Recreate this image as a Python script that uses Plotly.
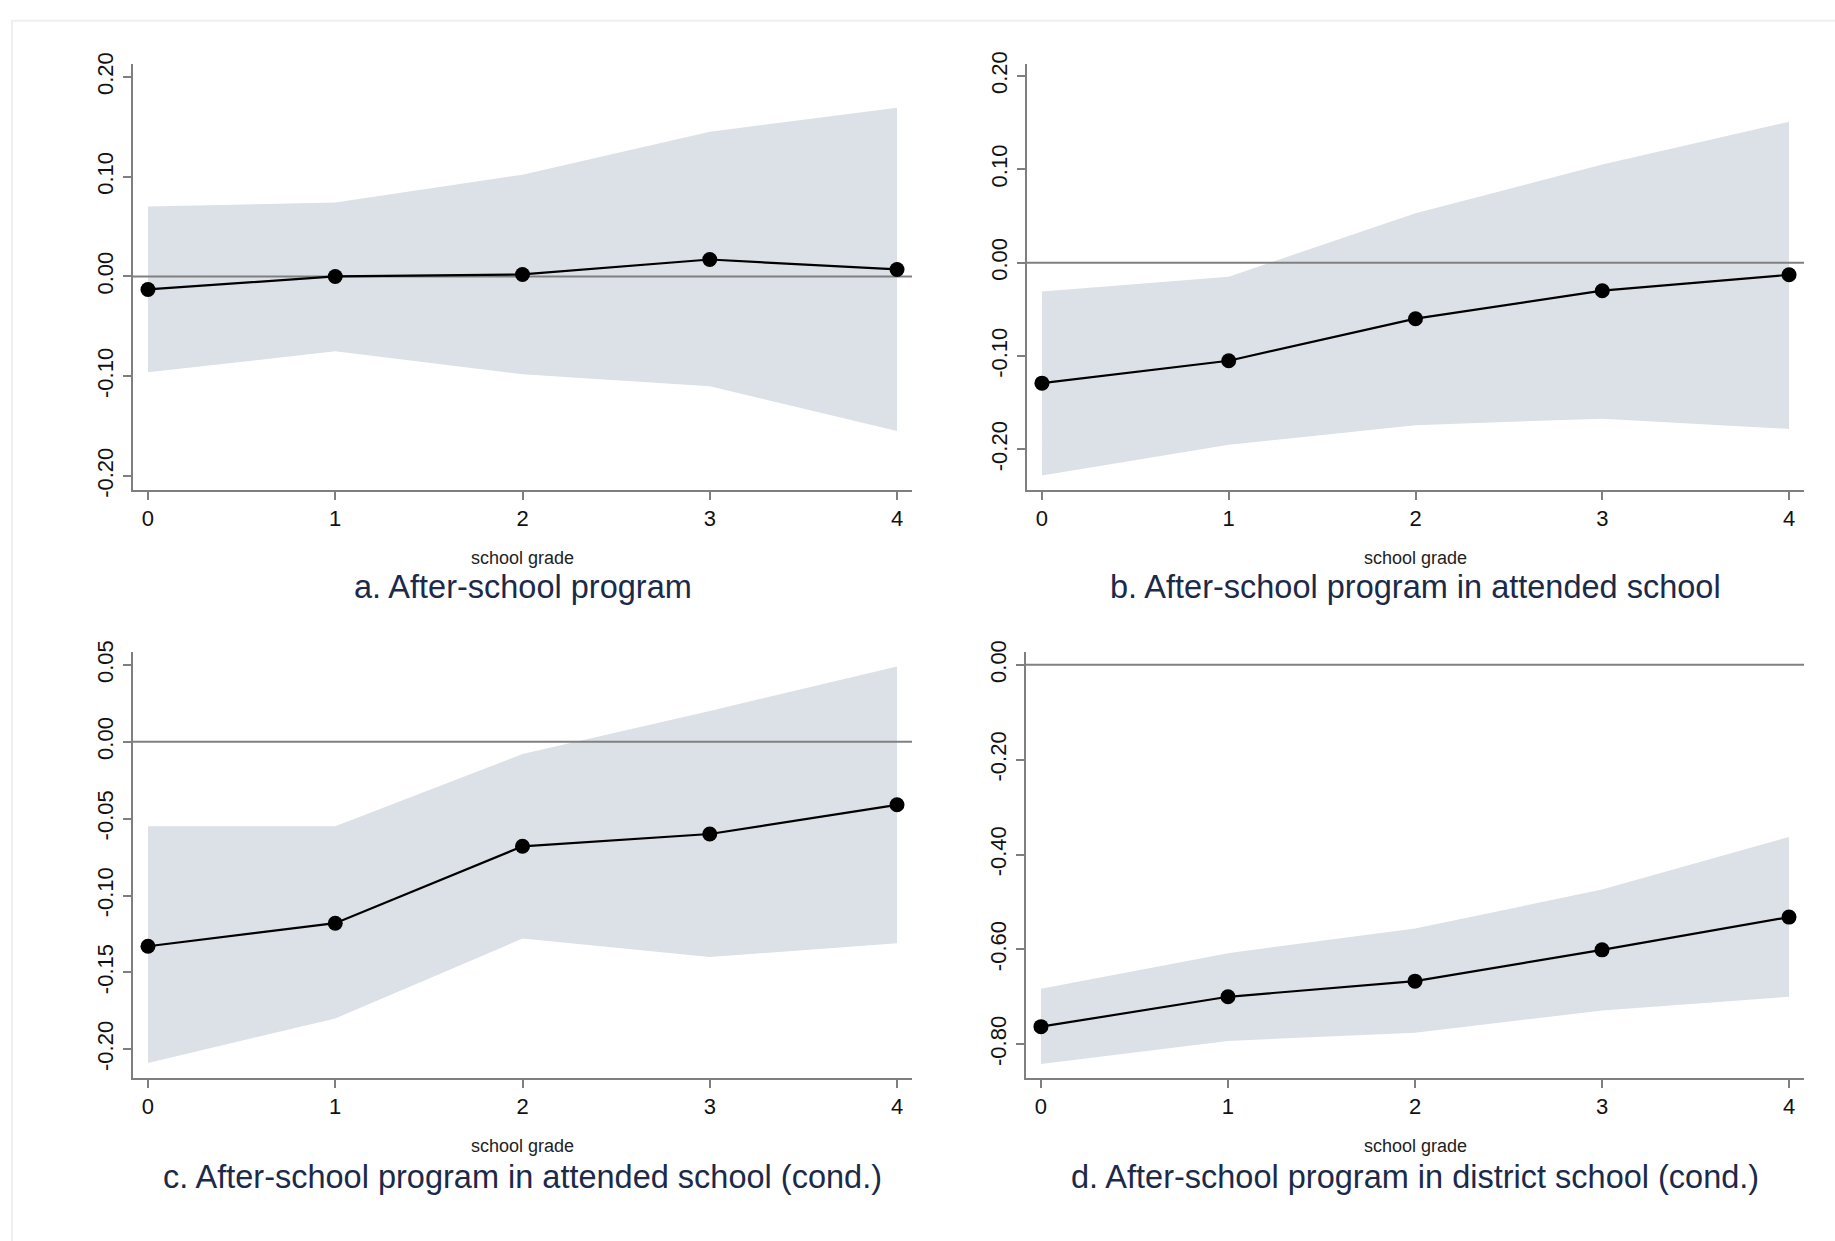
import plotly.graph_objects as go

# School grades on the horizontal axis
grades = [0, 1, 2, 3, 4]

# a. After-school program
est_a = [-0.013, 0.000, 0.002, 0.017, 0.007]
hi_a = [0.070, 0.074, 0.102, 0.145, 0.169]
lo_a = [-0.096, -0.075, -0.098, -0.110, -0.155]

# b. After-school program in attended school
est_b = [-0.129, -0.105, -0.060, -0.030, -0.013]
hi_b = [-0.031, -0.015, 0.053, 0.105, 0.151]
lo_b = [-0.228, -0.195, -0.174, -0.167, -0.178]

# c. After-school program in attended school (cond.)
est_c = [-0.133, -0.118, -0.068, -0.060, -0.041]
hi_c = [-0.055, -0.055, -0.008, 0.020, 0.049]
lo_c = [-0.209, -0.180, -0.128, -0.140, -0.131]

# d. After-school program in district school (cond.)
est_d = [-0.763, -0.700, -0.667, -0.601, -0.532]
hi_d = [-0.683, -0.608, -0.556, -0.474, -0.363]
lo_d = [-0.842, -0.793, -0.776, -0.729, -0.700]

titles = [
    "a. After-school program",
    "b. After-school program in attended school",
    "c. After-school program in attended school (cond.)",
    "d. After-school program in district school (cond.)",
]
x_title = "school grade"

yticks_a = [-0.20, -0.10, 0.00, 0.10, 0.20]
yticks_b = [-0.20, -0.10, 0.00, 0.10, 0.20]
yticks_c = [-0.20, -0.15, -0.10, -0.05, 0.00, 0.05]
yticks_d = [-0.80, -0.60, -0.40, -0.20, 0.00]

W, H = 1835, 1241
BAND = "#dce1e7"
AXIS = "#7f7f7f"
FONT = "Liberation Sans, Arial, sans-serif"
XRANGE = [-0.08, 4.08]

# pixel boxes of the four plot areas: (left, right, top, bottom)
boxes = [
    (133, 912, 52, 485),
    (1027, 1804, 52, 485),
    (133, 912, 650, 1083),
    (1026, 1804, 650, 1083),
]
# vertical pixel positions of the axis title and the panel caption
label_y = [(554, 584), (554, 584), (1153, 1184), (1153, 1184)]
yranges = [
    [-0.2138, 0.2128],
    [-0.2432, 0.2126],
    [-0.2185, 0.0584],
    [-0.8706, 0.0271],
]
panels = [
    (est_a, hi_a, lo_a, yticks_a),
    (est_b, hi_b, lo_b, yticks_b),
    (est_c, hi_c, lo_c, yticks_c),
    (est_d, hi_d, lo_d, yticks_d),
]

fig = go.Figure()
layout = dict(
    width=W, height=H,
    margin=dict(l=0, r=0, t=0, b=0),
    paper_bgcolor="white", plot_bgcolor="white",
    showlegend=False,
    font=dict(family=FONT, color="#111111"),
)
annotations = []

for i, ((est, hi, lo, yt), (l, r, t, b), yr, (ys, yc)) in enumerate(
        zip(panels, boxes, yranges, label_y)):
    n = "" if i == 0 else str(i + 1)
    xa, ya = "x" + n, "y" + n
    # confidence band
    fig.add_trace(go.Scatter(x=grades, y=hi, mode="lines", line=dict(width=0),
                             xaxis=xa, yaxis=ya, hoverinfo="skip"))
    fig.add_trace(go.Scatter(x=grades, y=lo, mode="lines", line=dict(width=0),
                             fill="tonexty", fillcolor=BAND,
                             xaxis=xa, yaxis=ya, hoverinfo="skip"))
    # zero reference line
    fig.add_trace(go.Scatter(x=XRANGE, y=[0, 0], mode="lines",
                             line=dict(color="#808080", width=2),
                             xaxis=xa, yaxis=ya, hoverinfo="skip"))
    # point estimates
    fig.add_trace(go.Scatter(x=grades, y=est, mode="lines+markers",
                             line=dict(color="black", width=2.2),
                             marker=dict(color="black", size=15),
                             xaxis=xa, yaxis=ya))

    xd = [l / W, r / W]
    yd = [1 - b / H, 1 - t / H]
    layout["xaxis" + n] = dict(
        domain=xd, range=XRANGE, anchor=ya,
        tickvals=grades, ticktext=[str(g) for g in grades],
        showline=True, linecolor=AXIS, linewidth=2,
        ticks="outside", ticklen=8, tickwidth=2, tickcolor=AXIS,
        showgrid=False, zeroline=False,
        tickfont=dict(size=22, color="#111111", family=FONT),
    )
    layout["yaxis" + n] = dict(
        domain=yd, range=yr, anchor=xa,
        tickvals=yt, ticktext=[f"{v:.2f}" for v in yt],
        tickangle=-90,
        showline=True, linecolor=AXIS, linewidth=2,
        ticks="outside", ticklen=8, tickwidth=2, tickcolor=AXIS,
        showgrid=False, zeroline=False,
        ticklabelstandoff=1,
        tickfont=dict(size=22, color="#111111", family=FONT),
    )
    cx = (l + r) / 2 / W
    annotations.append(dict(text=x_title, x=cx, y=1 - ys / H,
                            xref="paper", yref="paper", showarrow=False,
                            xanchor="center", yanchor="middle",
                            font=dict(size=18, color="#222222", family=FONT)))
    annotations.append(dict(text=titles[i], x=cx, y=1 - yc / H,
                            xref="paper", yref="paper", showarrow=False,
                            xanchor="center", yanchor="middle",
                            font=dict(size=32.5, color="#1c2a4a", family=FONT)))

layout["annotations"] = annotations
# faint outer frame of the graph region
layout["shapes"] = [dict(type="rect", xref="paper", yref="paper",
                         x0=12 / W, x1=1.05, y0=-0.05, y1=1 - 8 / H,
                         line=dict(color="#efefef", width=2), layer="below")]
fig.update_layout(**layout)
fig.write_html("out.html")
